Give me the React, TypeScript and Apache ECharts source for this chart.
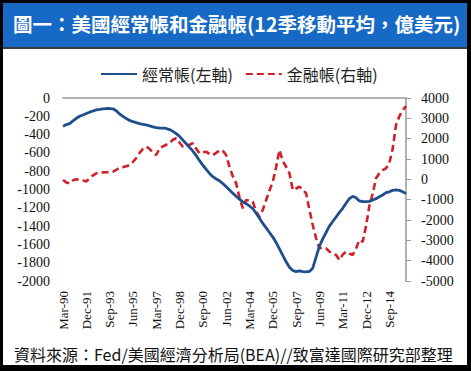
import React, { useEffect, useRef } from "react";
import * as echarts from "echarts";

const QUARTERS = ["Mar", "Jun", "Sep", "Dec"];
const categories: string[] = [];
for (let y = 1990; y <= 2015; y++) {
  for (const q of QUARTERS) categories.push(`${q}-${String(y % 100).padStart(2, "0")}`);
}

const currentAccount = [
  -310, -290, -280, -250, -222, -200, -185, -170, -155, -142,
  -130, -125, -118, -115, -115, -118, -140, -175, -200, -225,
  -245, -259, -270, -280, -288, -295, -305, -315, -324, -328,
  -330, -333, -345, -365, -390, -420, -460, -500, -540, -580,
  -630, -685, -735, -780, -825, -860, -885, -905, -935, -970,
  -1005, -1040, -1075, -1105, -1135, -1155, -1180, -1210, -1260, -1315,
  -1370, -1420, -1470, -1520, -1580, -1650, -1720, -1790, -1850, -1885,
  -1898, -1890, -1898, -1900, -1895, -1860, -1740, -1620, -1540, -1470,
  -1400, -1350, -1300, -1250, -1205, -1150, -1100, -1075, -1090, -1125,
  -1133, -1133, -1130, -1115, -1100, -1080, -1060, -1035, -1025, -1010,
  -1005, -1010, -1025, -1045,
];

const financialAccount = [
  -33, -150, -200, -50, 0, -33, -60, -100, 50, 200,
  296, 330, 340, 345, 360, 378, 470, 575, 600, 640,
  705, 850, 1050, 1300, 1500, 1604, 1500, 1300, 1196, 1526,
  1620, 1700, 1772, 1950, 2018, 1800, 1604, 1650, 1700, 1772,
  1500, 1280, 1330, 1360, 1250, 1196, 1300, 1420, 1400, 1196,
  600, 150, -197, -900, -1426, -1017, -1050, -1100, -1590, -1836,
  -1500, -1017, -550, -116, 600, 1442, 900, 620, 296, -525,
  -450, -362, -500, -688, -1500, -2247, -2900, -3393, -3350, -3393,
  -3550, -3650, -3722, -3968, -3700, -3560, -3650, -3722, -3400, -2985,
  -3068, -2300, -1300, -700, 50, 300, 450, 542, 800, 1500,
  2672, 3100, 3400, 3600,
];

const TITLE = "圖一：美國經常帳和金融帳(12季移動平均，億美元)";
const SOURCE = "資料來源：Fed/美國經濟分析局(BEA)//致富達國際研究部整理";
const SERIES_NAMES = ["經常帳(左軸)", "金融帳(右軸)"];

const SERIF = "Liberation Serif";
const CJK = "Noto Sans CJK TC";

const plain = (v: number) => String(v);

export default function App() {
  const ref = useRef<HTMLDivElement>(null);
  useEffect(() => {
    if (!ref.current) return;
    const chart = echarts.init(ref.current, null, { renderer: "svg" });
    chart.setOption({
      animation: false,
      backgroundColor: "#ffffff",
      graphic: [
        { type: "rect", left: 0, top: 0, shape: { width: 471, height: 371 }, style: { fill: "#000" }, z: -10 },
        { type: "rect", left: 3, top: 3, shape: { width: 464, height: 362 }, style: { fill: "#fff" }, z: -9 },
        { type: "rect", left: 3, top: 3, shape: { width: 464, height: 44 }, style: { fill: "#1669c4" }, z: -8 },
        { type: "rect", left: 3, top: 47, shape: { width: 464, height: 2 }, style: { fill: "#3a3a3a" }, z: -8 },
        {
          type: "text", left: 13, top: 14, z: 10,
          style: { text: TITLE, fill: "#ffffff", font: `bold 19.5px "${CJK}"` },
        },
        {
          type: "text", left: 14, top: 346, z: 10,
          style: { text: SOURCE, fill: "#111", font: `16px "${CJK}"` },
        },
      ],
      legend: {
        left: 95, top: 61, itemWidth: 36, itemHeight: 10, itemGap: 12,
        itemStyle: { opacity: 0 },
        textStyle: { fontFamily: CJK, fontSize: 16, color: "#222" },
        data: SERIES_NAMES,
      },
      grid: { left: 63, right: 65, top: 98, bottom: 90, containLabel: false },
      xAxis: [
        {
          type: "category", data: categories, boundaryGap: false, position: "bottom",
          axisLine: { show: false }, axisTick: { show: false },
          axisLabel: { interval: 6, rotate: 90, margin: 10, fontFamily: SERIF, fontSize: 13, color: "#111" },
        },
        {
          type: "category", data: categories, boundaryGap: false, position: "top",
          axisLine: { show: true, onZero: false, lineStyle: { color: "#999", width: 1.5 } },
          axisTick: { show: false }, axisLabel: { show: false },
        },
      ],
      yAxis: [
        {
          type: "value", min: -2000, max: 0, interval: 200, position: "left",
          axisLine: { show: false }, axisTick: { show: false }, splitLine: { show: false },
          axisLabel: { margin: 13, fontFamily: SERIF, fontSize: 14, color: "#111", formatter: plain },
        },
        {
          type: "value", min: -5000, max: 4000, interval: 1000, position: "right",
          axisLine: { show: true, onZero: false, lineStyle: { color: "#999", width: 1.5 } },
          axisTick: { show: true, length: 5, lineStyle: { color: "#999" } },
          splitLine: { show: false },
          axisLabel: { margin: 15, fontFamily: SERIF, fontSize: 14, color: "#111", formatter: plain },
        },
      ],
      series: [
        {
          name: SERIES_NAMES[0], type: "line", data: currentAccount, yAxisIndex: 0, xAxisIndex: 0,
          showSymbol: false, symbol: "none",
          lineStyle: { color: "#1f4e8c", width: 2.8 }, itemStyle: { color: "#1f4e8c" }, z: 3,
        },
        {
          name: SERIES_NAMES[1], type: "line", data: financialAccount, yAxisIndex: 1, xAxisIndex: 0,
          showSymbol: false, symbol: "none",
          lineStyle: { color: "#d0202a", width: 2.6, type: [7, 4] }, itemStyle: { color: "#d0202a" }, z: 2,
        },
      ],
    });
    return () => chart.dispose();
  }, []);
  return <div ref={ref} style={{ position: "absolute", left: 0, top: 0, width: 471, height: 371 }} />;
}
